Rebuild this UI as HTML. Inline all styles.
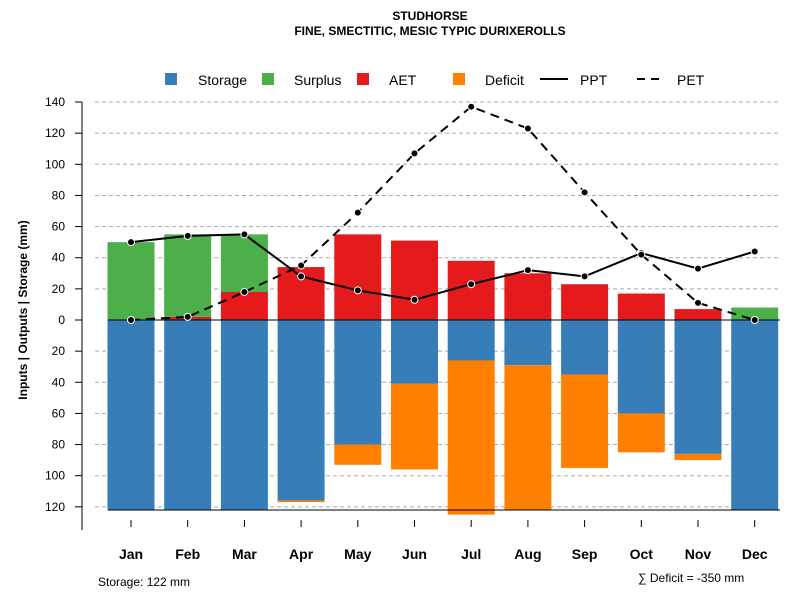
<!DOCTYPE html>
<html><head><meta charset="utf-8"><style>
body{margin:0;background:#fff;font-family:"Liberation Sans",sans-serif}
svg text{font-family:"Liberation Sans",sans-serif}
</style></head><body>
<svg id="c" width="800" height="600">
<text x="430" y="20" text-anchor="middle" font-size="12" font-weight="bold">STUDHORSE</text>
<text x="430" y="35" text-anchor="middle" font-size="12" font-weight="bold">FINE, SMECTITIC, MESIC TYPIC DURIXEROLLS</text>
<g font-size="14">
<rect x="165" y="73" width="12" height="12" fill="#377EB8"/>
<text x="198" y="85">Storage</text>
<rect x="262" y="73" width="12" height="12" fill="#4DAF4A"/>
<text x="294" y="85">Surplus</text>
<rect x="357" y="73" width="12" height="12" fill="#E41A1C"/>
<text x="389" y="85">AET</text>
<rect x="453" y="73" width="12" height="12" fill="#FF7F00"/>
<text x="485" y="85">Deficit</text>
<line x1="540" y1="79" x2="568" y2="79" stroke="#000" stroke-width="2"/>
<text x="580" y="85">PPT</text>
<line x1="637" y1="79" x2="665" y2="79" stroke="#000" stroke-width="2" stroke-dasharray="8,6"/>
<text x="677" y="85">PET</text>
</g>
<text transform="translate(27,310) rotate(-90)" text-anchor="middle" font-size="12" font-weight="bold">Inputs | Outputs | Storage    (mm)</text>
<text x="98" y="586" font-size="12">Storage: 122 mm</text>
<text x="638" y="582" font-size="12">∑ Deficit = -350 mm</text>
<g id="plot"></g>
</svg>
<script>
const months=["Jan","Feb","Mar","Apr","May","Jun","Jul","Aug","Sep","Oct","Nov","Dec"];
const storage=[122,122,122,116,80,41,26,29,35,60,86,122];
const deficit=[0,0,0,1,13,55,99,93,60,25,4,0];
const aet=[0,2,18,34,55,51,38,30,23,17,7,0];
const surplus=[50,53,37,0,0,0,0,0,0,0,0,8];
const ppt=[50,54,55,28,19,13,23,32,28,43,33,44];
const pet=[0,2,18,35,69,107,137,123,82,42,11,0];
const yTicks=[140,120,100,80,60,40,20,0,-20,-40,-60,-80,-100,-120];
const NS="http://www.w3.org/2000/svg";
const g=document.getElementById('plot');
const y=v=>320-v*1.557;
const x=i=>131+i*56.7;
const bw=47;
function mk(t,a){const e=document.createElementNS(NS,t);for(const k in a)e.setAttribute(k,a[k]);g.appendChild(e);return e;}
yTicks.forEach(t=>{
  if(t!==0){const l=mk('line',{x1:95,x2:780,y1:y(t),y2:y(t),stroke:'#aaa','stroke-dasharray':'4,3'});
  
  }
  const tk=mk('line',{x1:75,x2:82,y1:y(t),y2:y(t),stroke:'#000'});
  
  
  const tx=mk('text',{x:65,y:y(t)+4,'text-anchor':'end','font-size':12});
  tx.textContent=Math.abs(t);
  
  
});
const ax=mk('line',{x1:82,x2:82,y1:y(140),y2:530,stroke:'#000'});


months.forEach((m,i)=>{
  const cx=x(i),l=cx-bw/2;
  const r1=mk('rect',{x:l,y:y(0),width:bw,height:storage[i]*1.557,fill:'#377EB8'});
  
  
  if(deficit[i]>0){const r=mk('rect',{x:l,y:y(-storage[i]),width:bw,height:deficit[i]*1.557,fill:'#FF7F00'});
  
  }
  if(aet[i]>0){const r=mk('rect',{x:l,y:y(aet[i]),width:bw,height:aet[i]*1.557,fill:'#E41A1C'});
  
  }
  if(surplus[i]>0){const r=mk('rect',{x:l,y:y(aet[i]+surplus[i]),width:bw,height:surplus[i]*1.557,fill:'#4DAF4A'});
  
  }
  const tk=mk('line',{x1:cx,x2:cx,y1:520,y2:527,stroke:'#000'});
  
  
  const t=mk('text',{x:cx,y:559,'text-anchor':'middle','font-size':14,'font-weight':'bold'});
  t.textContent=m;
  
  
});
const z=mk('line',{x1:108,x2:780,y1:y(0),y2:y(0),stroke:'#000'});


const bl=mk('line',{x1:108,x2:780,y1:y(-122),y2:y(-122),stroke:'#000'});


function series(arr,name,dash){
  const p=mk('polyline',{points:arr.map((v,i)=>x(i)+','+y(v)).join(' '),fill:'none',stroke:'#000','stroke-width':2,'stroke-dasharray':dash});
  
  
  arr.forEach((v,i)=>{const c=mk('circle',{cx:x(i),cy:y(v),r:3.5,fill:'#000',stroke:'#fff','stroke-width':1});
  
  });
}
series(ppt,'ppt','none');
series(pet,'pet','9,6');
</script>
</body></html>
